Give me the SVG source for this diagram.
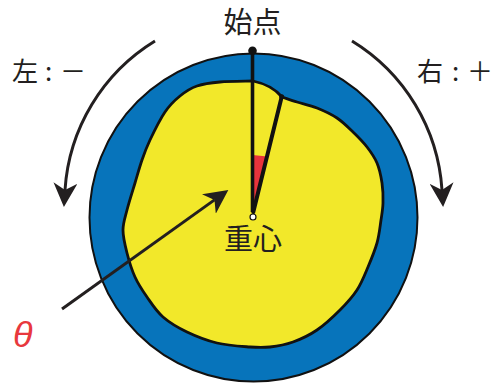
<svg xmlns="http://www.w3.org/2000/svg" width="497" height="385" viewBox="0 0 497 385">
  <style>
    .lbl { font-family: "Noto Sans CJK JP", "Noto Sans", sans-serif; fill: #231f20; }
    .arr { fill: none; stroke: #231f20; stroke-width: 3; }
    .ink { stroke: #111; fill: none; }
  </style>
  <defs>
    <marker id="head" markerUnits="userSpaceOnUse" viewBox="0 0 24 24" markerWidth="24" markerHeight="24" refX="7" refY="12" orient="auto">
      <path d="M0,0 L24,12 L0,24 L7,12 Z" fill="#231f20"/>
    </marker>
  </defs>

  <!-- disc -->
  <g id="disc">
    <circle cx="253.5" cy="217.5" r="164" fill="#0774bb" stroke="#111" stroke-width="2"/>
  </g>

  <!-- yellow body with its notch -->
  <g id="body">
    <path fill="#f2e82a" stroke="#111" stroke-width="2.8" stroke-linejoin="round"
      d="M282,97 Q272,85 253,81
         C247.5,81.2 229.3,81.2 220,82
         C210.7,82.8 203.7,83.7 197,86
         C190.3,88.3 185.3,91.7 180,96
         C174.7,100.3 170,104.7 165,112
         C160,119.3 153.8,132 150,140
         C146.2,148 144.5,152.8 142,160
         C139.5,167.2 137.5,174.7 135,183
         C132.5,191.3 129,202.2 127,210
         C125,217.8 123,222.8 123,230
         C123,237.2 125,245.2 127,253
         C129,260.8 131.7,269.7 135,277
         C138.3,284.3 142.3,290.3 147,297
         C151.7,303.7 156.3,311.2 163,317
         C169.7,322.8 178,327.7 187,332
         C196,336.3 206.5,340.5 217,343
         C227.5,345.5 241.2,346.3 250,347
         C258.8,347.7 262.8,347.8 270,347
         C277.2,346.2 285.2,344.8 293,342
         C300.8,339.2 309.2,335.3 317,330
         C324.8,324.7 333.3,316.7 340,310
         C346.7,303.3 352.3,297.2 357,290
         C361.7,282.8 364.7,274.8 368,267
         C371.3,259.2 374.8,250.8 377,243
         C379.2,235.2 380,226.7 381,220
         C382,213.3 382.8,209.2 383,203
         C383.2,196.8 383,189.7 382,183
         C381,176.3 379.5,169 377,163
         C374.5,157 371,152.2 367,147
         C363,141.8 358,136.8 353,132
         C348,127.2 343,122 337,118
         C331,114 323.7,110.7 317,108
         C310.3,105.3 302.8,103.8 297,102
         C291.2,100.2 284.5,97.8 282,97 Z"/>
    <!-- angle wedge -->
    <polygon points="252.5,155 267.3,156.5 253.5,211" fill="#e8343c"/>
    <!-- radii -->
    <line class="ink" x1="252.5" y1="50.5" x2="252.5" y2="212" stroke-width="3.6"/>
    <line class="ink" x1="281.7" y1="96.7" x2="253.3" y2="212" stroke-width="4" stroke-linecap="round"/>
    <circle cx="281.7" cy="96.7" r="2.5" fill="#111"/>
    <circle cx="252.5" cy="50.7" r="4.3" fill="#111"/>
    <circle cx="253" cy="217" r="3" fill="#fff" stroke="#111" stroke-width="1.2"/>
  </g>

  <g id="labels">
    <text class="lbl" x="252.5" y="33" font-size="29" text-anchor="middle">始点</text>
    <text class="lbl" x="253" y="250" font-size="29" text-anchor="middle">重心</text>
    <text class="lbl" font-size="26" x="12 45 60" y="81">左:－</text>
    <text class="lbl" font-size="26" x="417 452 467" y="81">右:＋</text>
    <text x="13" y="347" font-family="Liberation Sans, sans-serif" font-style="italic" font-size="36" fill="#e8383d">θ</text>
  </g>

  <!-- connectors -->
  <g id="connectors">
    <path class="arr" d="M155,41 A189,189 0 0 0 65,190" marker-end="url(#head)"/>
    <path class="arr" d="M352,41 A189,189 0 0 1 442,190" marker-end="url(#head)"/>
    <line class="arr" x1="62" y1="309" x2="214.5" y2="199.9" marker-end="url(#head)"/>
  </g>
</svg>
